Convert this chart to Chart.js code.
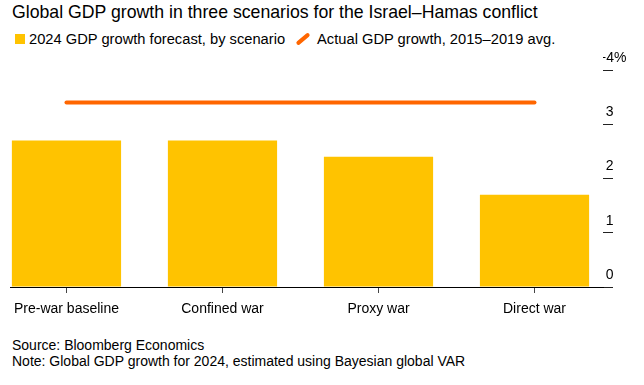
<!DOCTYPE html>
<html>
<head>
<meta charset="utf-8">
<script src="https://cdn.jsdelivr.net/npm/chart.js@4"></script>
<style>
  body { margin: 0; width: 644px; height: 385px; background: #fff; font-family: "Liberation Sans", Arial, sans-serif; color: #000; position: relative; overflow: hidden; }
  #title { position: absolute; left: 12px; top: 2px; font-size: 17.7px; white-space: nowrap; }
  #legend { position: absolute; left: 15px; top: 30px; font-size: 14.7px; white-space: nowrap; }
  #legend span { display: inline-block; vertical-align: middle; }
  .sq { width: 10px; height: 10px; background: #ffc300; margin-right: 4px; }
  .slash { width: 4px; height: 16px; background: #ff6600; transform: rotate(50deg); margin: 0 12px 0 16px; border-radius: 2px; }
  #wrap { position: absolute; left: 0; top: 50px; width: 644px; height: 280px; }
  #foot { position: absolute; left: 12px; top: 337px; font-size: 14px; line-height: 16px; white-space: nowrap; }
</style>
</head>
<body>
<div id="title">Global GDP growth in three scenarios for the Israel–Hamas conflict</div>
<div id="legend"><span class="sq"></span><span>2024 GDP growth forecast, by scenario</span><span class="slash"></span><span>Actual GDP growth, 2015–2019 avg.</span></div>
<div id="wrap"><canvas id="chart"></canvas></div>
<div id="foot">Source: Bloomberg Economics<br>Note: Global GDP growth for 2024, estimated using Bayesian global VAR</div>
<script>
const categories = ['Pre-war baseline', 'Confined war', 'Proxy war', 'Direct war'];
const forecast = [2.7, 2.7, 2.4, 1.7];
const actualAvg = [3.4, 3.4, 3.4, 3.4];
const yTicks = [0, 1, 2, 3, 4];

const ctx = document.getElementById('chart').getContext('2d');
new Chart(ctx, {
    data: {
        datasets: [{
            type: 'line',
            data: actualAvg.map((v, i) => ({ x: i, y: v })),
            borderColor: '#ff6600',
            borderWidth: 4,
            borderCapStyle: 'round',
            pointRadius: 0,
            clip: false
        }, {
            type: 'bar',
            data: forecast.map((v, i) => ({ x: i, y: v })),
            backgroundColor: '#ffc300',
            barPercentage: 0.7,
            categoryPercentage: 1
        }]
    },
    options: {
        responsive: true,
        maintainAspectRatio: false,
        animation: false,
        layout: { padding: { left: 10, top: 20, right: 0, bottom: 0 } },
        plugins: { legend: { display: false }, tooltip: { enabled: false } },
        scales: {
            x: {
                type: 'linear',
                offset: false,
                min: -0.362,
                max: 3.439,
                afterBuildTicks: s => { s.ticks = categories.map((c, i) => ({ value: i })); },
                afterFit: s => { s.height = 43; },
                ticks: {
                    callback: v => categories[v],
                    color: '#000',
                    font: { family: 'Liberation Sans', size: 14 },
                    padding: 8,
                    maxRotation: 0,
                    autoSkip: false
                },
                grid: { offset: false, drawOnChartArea: false, tickLength: 6, color: '#444' },
                border: { display: true, color: '#000', width: 1 }
            },
            y: {
                position: 'right',
                min: 0,
                max: 4,
                afterBuildTicks: s => { s.ticks = yTicks.map(v => ({ value: v })); },
                afterFit: s => { s.width = 41; },
                ticks: {
                    // digits line up; the "+" of the top label hangs to the left
                    callback: v => v === 4 ? '+4%' : '\u00a0\u00a0' + v,
                    color: '#000',
                    font: { family: 'Liberation Sans', size: 14 },
                    crossAlign: 'near',
                    padding: -15,
                    labelOffset: -12
                },
                grid: { drawOnChartArea: false, tickLength: 10, color: '#222' },
                border: { display: false }
            }
        }
    }
});
</script>
</body>
</html>
